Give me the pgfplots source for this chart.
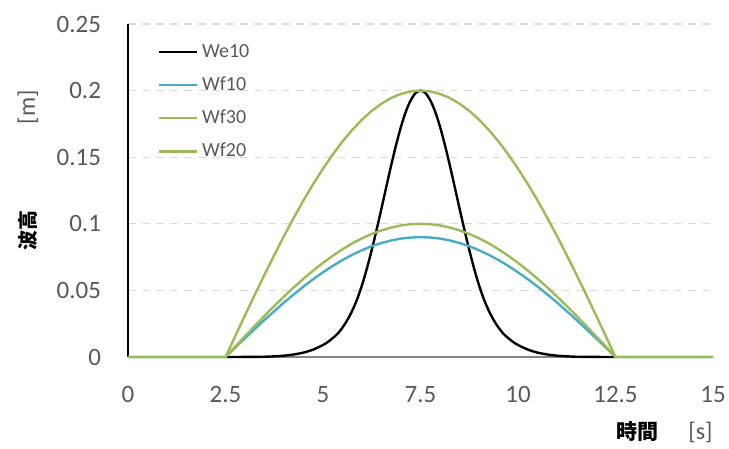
\documentclass[border=0pt]{standalone}
\usepackage{fontspec}
\setmainfont{Carlito}
\newfontfamily\cjk{Noto Sans CJK JP}
\usepackage{pgfplots}
\usepackage{pgfplotstable}
\pgfplotsset{compat=1.18}
\definecolor{txtgray}{HTML}{595959}
\definecolor{gridgray}{HTML}{D9D9D9}
\definecolor{axgray}{HTML}{868686}
\definecolor{wblue}{HTML}{4BACC6}
\definecolor{wgreen}{HTML}{9BBB59}

\pgfplotstableread{
t y
2.5 0
3.0 0.00005
3.5 0.0002
3.75 0.0005
4.0 0.001
4.25 0.0019
4.5 0.0033
4.75 0.0056
5.0 0.009
5.125 0.0113
5.25 0.0142
5.375 0.0175
5.5 0.0221
5.625 0.0278
5.75 0.0348
5.875 0.0434
6.0 0.0539
6.125 0.0664
6.25 0.0804
6.375 0.0956
6.5 0.1116
6.625 0.1280
6.75 0.1441
6.875 0.1593
7.0 0.1729
7.125 0.1843
7.25 0.1928
7.375 0.1982
7.5 0.2
7.625 0.1982
7.75 0.1928
7.875 0.1843
8.0 0.1729
8.125 0.1593
8.25 0.1441
8.375 0.1280
8.5 0.1116
8.625 0.0956
8.75 0.0804
8.875 0.0664
9.0 0.0539
9.125 0.0434
9.25 0.0348
9.375 0.0278
9.5 0.0221
9.625 0.0175
9.75 0.0142
9.875 0.0113
10.0 0.009
10.25 0.0056
10.5 0.0033
10.75 0.0019
11.0 0.001
11.25 0.0005
11.5 0.0002
12.0 0.00005
12.5 0
}\weten

\pgfplotstableread{
t wf10 wf30 wf20
0 0 0 0
2.5 0 0 0
2.75 0.0071 0.0079 0.0157
3.0 0.0141 0.0156 0.0313
3.25 0.0210 0.0233 0.0467
3.5 0.0278 0.0309 0.0618
3.75 0.0344 0.0383 0.0765
4.0 0.0409 0.0454 0.0908
4.25 0.0470 0.0523 0.1045
4.5 0.0529 0.0588 0.1176
4.75 0.0584 0.0649 0.1299
5.0 0.0636 0.0707 0.1414
5.25 0.0684 0.0760 0.1521
5.5 0.0728 0.0809 0.1618
5.75 0.0767 0.0853 0.1705
6.0 0.0802 0.0891 0.1782
6.25 0.0832 0.0924 0.1848
6.5 0.0856 0.0951 0.1902
6.75 0.0875 0.0972 0.1945
7.0 0.0889 0.0988 0.1975
7.25 0.0897 0.0997 0.1994
7.5 0.09 0.1 0.2
7.75 0.0897 0.0997 0.1994
8.0 0.0889 0.0988 0.1975
8.25 0.0875 0.0972 0.1945
8.5 0.0856 0.0951 0.1902
8.75 0.0832 0.0924 0.1848
9.0 0.0802 0.0891 0.1782
9.25 0.0767 0.0853 0.1705
9.5 0.0728 0.0809 0.1618
9.75 0.0684 0.0760 0.1521
10.0 0.0636 0.0707 0.1414
10.25 0.0584 0.0649 0.1299
10.5 0.0529 0.0588 0.1176
10.75 0.0470 0.0523 0.1045
11.0 0.0409 0.0454 0.0908
11.25 0.0344 0.0383 0.0765
11.5 0.0278 0.0309 0.0618
11.75 0.0210 0.0233 0.0467
12.0 0.0141 0.0156 0.0313
12.25 0.0071 0.0079 0.0157
12.5 0 0 0
15 0 0 0
}\wftab

\begin{document}
\begin{tikzpicture}
\path[use as bounding box] (-64pt,-46pt) rectangle (300.5pt,178.5pt);
\begin{axis}[
  scale only axis,
  width=292.5pt, height=166.5pt,
  xmin=0, xmax=15, ymin=0, ymax=0.25,
  xtick={0,2.5,5,7.5,10,12.5,15},
  ytick={0,0.05,0.1,0.15,0.2,0.25},
  xticklabels={0,2.5,5,7.5,10,12.5,15},
  yticklabels={0,0.05,0.1,0.15,0.2,0.25},
  major tick length=0pt,
  axis x line*=bottom,
  axis y line*=left,
  x axis line style={axgray, line width=1.1pt, -},
  y axis line style={black, line width=0.7pt, -},
  ymajorgrids,
  grid style={gridgray, dashed, line width=0.6pt, dash pattern=on 4pt off 3pt},
  tick label style={font=\fontsize{12.5}{14}\selectfont, text=txtgray},
  xticklabel style={yshift=-11pt},
  yticklabel style={xshift=-10pt},
  /pgf/number format/assume math mode=true,
  clip=false,
  legend style={at={(axis description cs:0.05,0.953)}, anchor=north west,
    draw=none, fill=none, font=\fontsize{10}{11}\selectfont, text=txtgray,
    row sep=4.3pt, inner sep=0pt},
  legend cell align=left,
  legend image code/.code={\draw[#1] (0pt,0pt) -- (19pt,0pt);},
  every axis plot/.append style={line width=1.2pt},
]
\addplot[black, smooth] table[x=t, y=y] {\weten};
\addlegendentry{We10}
\addplot[wblue] table[x=t, y=wf10] {\wftab};
\addlegendentry{Wf10}
\addplot[wgreen] table[x=t, y=wf30] {\wftab};
\addlegendentry{Wf30}
\addplot[wgreen] table[x=t, y=wf20] {\wftab};
\addlegendentry{Wf20}
\node[rotate=90, anchor=center, font=\fontsize{10}{12}\selectfont\cjk\bfseries] at (axis description cs:-0.171,0.38) {波高};
\node[rotate=90, anchor=center, font=\fontsize{12}{14}\selectfont, text=txtgray] at (axis description cs:-0.171,0.75) {[m]};
\node[anchor=east, inner sep=0pt] at (axis description cs:1,-0.225) {{\fontsize{10.5}{12}\selectfont\cjk\bfseries 時間}\hspace{15pt}{\fontsize{12}{14}\selectfont\color{txtgray}[s]}};
\end{axis}
\end{tikzpicture}
\end{document}
